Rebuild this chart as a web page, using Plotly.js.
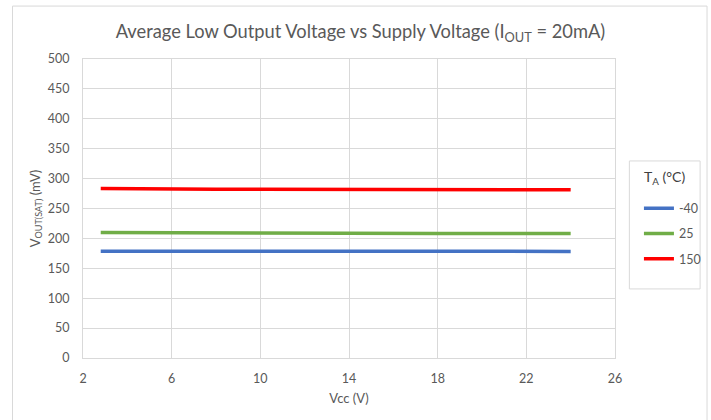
<!DOCTYPE html>
<html>
<head>
<meta charset="utf-8">
<script src="https://cdn.plot.ly/plotly-3.0.1.min.js"></script>
<style>html,body{margin:0;padding:0;background:#fff;}#chart{width:711px;height:420px;}</style>
</head>
<body>
<div id="chart"></div>
<script>
var vcc = [2.8, 4, 6, 8, 10, 12, 14, 16, 18, 20, 22, 24];
var vMinus40 = [178.5, 178.5, 178.5, 178.4, 178.4, 178.4, 178.3, 178.3, 178.3, 178.3, 178.3, 178.3];
var v25 = [209.8, 209.8, 209.6, 209.4, 209.2, 209.0, 208.8, 208.6, 208.4, 208.2, 208.1, 208.0];
var v150 = [283.5, 283.0, 282.5, 282.3, 282.1, 282.0, 281.9, 281.8, 281.6, 281.5, 281.4, 281.3];
var seriesNames = ['-40', '25', '150'];
var seriesColors = ['#4472C4', '#70AD47', '#FF0000'];
var seriesValues = [vMinus40, v25, v150];
var xTicks = [2, 6, 10, 14, 18, 22, 26];
var yTicks = [0, 50, 100, 150, 200, 250, 300, 350, 400, 450, 500];

var font = 'Lato, "Open Sans", sans-serif';
var grey = '#595959';

var traces = seriesValues.map(function (vals, i) {
  return {
    x: vcc, y: vals, type: 'scatter', mode: 'lines',
    name: seriesNames[i], legendgroup: 'g' + i,
    line: {color: seriesColors[i], width: 3.5}
  };
});

var layout = {
  width: 711, height: 420,
  margin: {l: 83, r: 96, t: 59, b: 62, autoexpand: false},
  paper_bgcolor: '#fff', plot_bgcolor: '#fff',
  font: {family: font, color: grey, size: 12},
  title: {
    text: 'Average Low Output Voltage vs Supply Voltage (I<sub>OUT</sub> = 20mA)',
    font: {family: font, size: 18.3, color: grey},
    x: 0.507, xanchor: 'center', y: 0.925, yanchor: 'middle'
  },
  xaxis: {
    range: [2, 26], tickvals: xTicks, ticktext: xTicks.map(String),
    showgrid: true, gridcolor: '#d9d9d9', gridwidth: 1,
    showline: true, linecolor: '#d9d9d9', mirror: true, zeroline: false,
    ticks: '', ticklabelstandoff: 9, automargin: false,
    tickfont: {size: 12.5, color: grey},
    title: {text: 'Vcc (V)', font: {size: 13, color: grey}, standoff: 8}
  },
  yaxis: {
    range: [0, 500], tickvals: yTicks, ticktext: yTicks.map(String),
    showgrid: true, gridcolor: '#d9d9d9', gridwidth: 1,
    showline: true, linecolor: '#d9d9d9', mirror: true, zeroline: false,
    ticks: '', ticklabelstandoff: 10, automargin: false,
    tickfont: {size: 12.5, color: grey},
    title: {text: 'V<sub>OUT(SAT)</sub> (mV)', font: {size: 13, color: grey}, standoff: 4}
  },
  showlegend: true,
  legend: {
    x: 1.045, xanchor: 'left', y: 0.55, yanchor: 'top',
    traceorder: 'grouped', tracegroupgap: 6,
    font: {size: 12.5, color: grey},
    bgcolor: 'rgba(0,0,0,0)', borderwidth: 0,
    itemwidth: 30
  },
  shapes: [
    {type: 'rect', xref: 'paper', yref: 'paper', x0: -0.1325, x1: 1.173, y0: -0.25, y1: 1.177,
     line: {color: '#d9d9d9', width: 1}, fillcolor: 'rgba(0,0,0,0)', layer: 'below'},
    {type: 'rect', xref: 'paper', yref: 'paper', x0: 1.027, x1: 1.160, y0: 0.231, y1: 0.659,
     line: {color: '#d9d9d9', width: 1}, fillcolor: 'rgba(0,0,0,0)'}
  ],
  annotations: [
    {xref: 'paper', yref: 'paper', x: 1.093, y: 0.603, xanchor: 'center', yanchor: 'middle',
     text: 'T<sub>A</sub> (°C)', showarrow: false, font: {size: 14, color: '#404040'}}
  ]
};

Plotly.newPlot('chart', traces, layout, {displayModeBar: false, staticPlot: true});
</script>
</body>
</html>
